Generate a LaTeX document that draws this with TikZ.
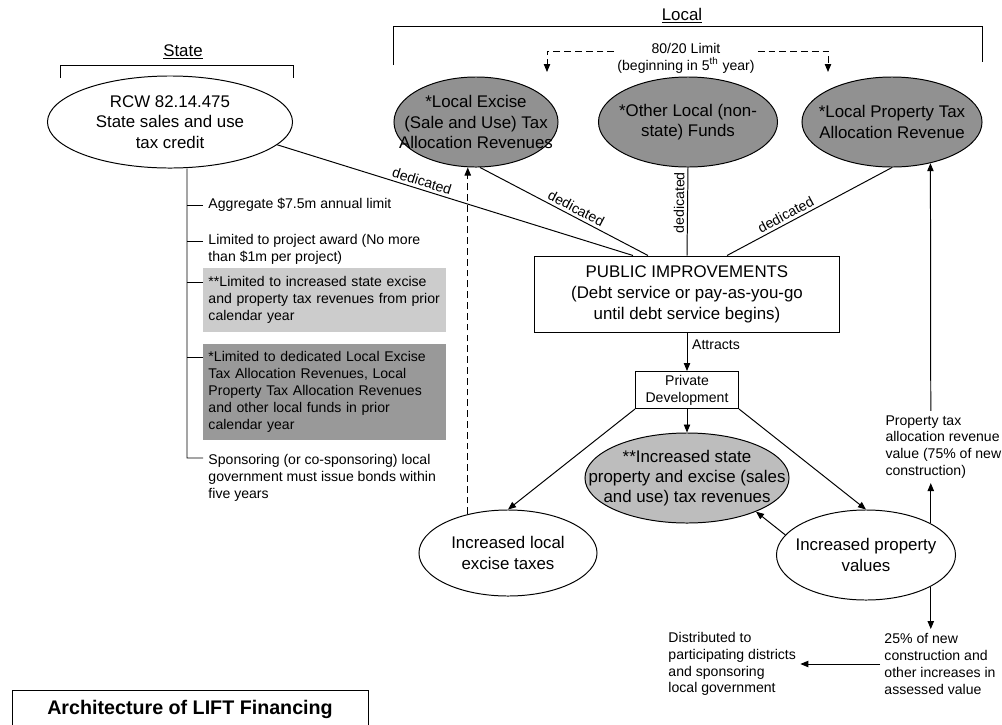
\documentclass[tikz,border=0pt]{standalone}
\usepackage{fontspec}
\setmainfont{Liberation Sans}
\usetikzlibrary{arrows.meta,shapes.geometric}

\definecolor{fundgray}{gray}{0.57}
\definecolor{gaingray}{gray}{0.74}
\definecolor{limitlight}{gray}{0.8}
\definecolor{limitdark}{gray}{0.6}

\begin{document}
\begin{tikzpicture}[x=0.025cm, y=-0.025cm, line width=0.7pt,
    oval/.style={ellipse, draw, inner sep=0pt},
    ovaltext/.style={align=center, font=\fontsize{12}{14.4}\selectfont},
    small/.style={font=\fontsize{10}{12}\selectfont},
    item/.style={small, align=left, anchor=west, inner sep=0.125cm},
    limitbox/.style={item, text width=5.8cm, minimum width=6.05cm},
    dedic/.style={small, sloped, above, inner sep=2pt},
    arr/.style={-{Triangle[length=0.2cm,width=0.16cm]}},
    dsh/.style={dash pattern=on 0.17cm off 0.1cm}]

\useasboundingbox (0,0) rectangle (1002,725);

% Brackets
\draw (60,78) -- (60,65) -- (293,65) -- (293,78);
\draw (393,65) -- (393,26) -- (982,26) -- (982,62);
\node[font=\fontsize{12}{14}\selectfont] (state) at (183,52) {\underline{State}};
\node[font=\fontsize{12}{14}\selectfont] (local) at (682,16) {\underline{Local}};

% Sources
\node[oval, minimum width=6.125cm, minimum height=2.3cm,
  label={[ovaltext]center:{RCW 82.14.475\\State sales and use\\tax credit}}] (rcw) at (170,122) {};
\node[oval, fill=fundgray, minimum width=4.1cm, minimum height=2.25cm,
  label={[ovaltext]center:{*Local Excise\\(Sale and Use) Tax\\Allocation Revenues}}] (lex) at (476,122) {};
\node[oval, fill=fundgray, minimum width=4.475cm, minimum height=2.25cm,
  label={[ovaltext]center:{*Other Local (non-\\state) Funds}}] (olf) at (688,122) {};
\node[oval, fill=fundgray, minimum width=4.5cm, minimum height=2.25cm,
  label={[ovaltext]center:{*Local Property Tax\\Allocation Revenue}}] (lpt) at (892,122) {};

% 80/20 limit
\node[small, align=center, inner sep=2pt] (lim) at (686,58) {80/20 Limit\\(beginning in 5\textsuperscript{th} year)};
\coordinate (limL) at (547,72);
\coordinate (limR) at (828,72);
\draw[arr, dsh] ([yshift=0.175cm]lim.west) -| (limL);
\draw[arr, dsh] ([yshift=0.175cm]lim.east) -| (limR);

% State credit limits
\node[item] (agg) at (203,205) {Aggregate \$7.5m annual limit};
\node[item] (award) at (203,249) {Limited to project award (No more\\than \$1m per project)};
\node[limitbox, fill=limitlight, minimum height=1.6cm] (stx) at (203,300) {**Limited to increased state excise\\and property tax revenues from prior\\calendar year};
\node[limitbox, fill=limitdark, minimum height=2.375cm] (ltx) at (203,392) {*Limited to dedicated Local Excise\\Tax Allocation Revenues, Local\\Property Tax Allocation Revenues\\and other local funds in prior\\calendar year};
\node[item] (spons) at (203,478) {Sponsoring (or co-sponsoring) local\\government must issue bonds within\\five years};

\coordinate (trunk) at (187,458);
\draw (rcw.south -| trunk) -- (trunk) -- ([yshift=0.5cm]spons.west);
\draw (agg.west) -- ++(-16,0);
\draw ([yshift=0.2cm]award.west) -- ++(-16,0);
\draw ([yshift=0.45cm]stx.west) -- ++(-16,0);
\draw ([yshift=0.875cm]ltx.west) -- ++(-16,0);

% Public improvements
\node[draw, minimum width=7.625cm, minimum height=1.9cm, align=center,
  font=\fontsize{12}{15}\selectfont] (pub) at (687,294)
  {PUBLIC IMPROVEMENTS\\(Debt service or pay-as-you-go\\until debt service begins)};
\draw (rcw.-12) -- node[dedic, pos=0.4] {dedicated} ([xshift=-1.35cm]pub.north);
\draw (lex.-85) -- node[dedic, pos=0.55] {dedicated} ([xshift=-0.975cm]pub.north);
\draw (pub.north) -- node[dedic, pos=0.6] {dedicated} (olf.south);
\draw ([xshift=1cm]pub.north) -- node[dedic, pos=0.38] {dedicated} (lpt.south);

% Private development and its effects
\node[draw, small, align=center, minimum width=2.575cm, minimum height=0.925cm, inner sep=1pt] (pd) at (687,390) {Private\\Development};
\draw[arr] (pub.south) -- node[small, right, pos=0.32] {Attracts} (pd.north);

\node[oval, fill=gaingray, minimum width=5.1cm, minimum height=2.25cm,
  label={[ovaltext]center:{**Increased state\\property and excise (sales\\and use) tax revenues}}] (isr) at (687,478) {};
\node[oval, minimum width=4.45cm, minimum height=2.15cm,
  label={[ovaltext]center:{Increased local\\excise taxes}}] (ile) at (508,553) {};
\node[oval, minimum width=4.475cm, minimum height=2.25cm,
  label={[ovaltext]center:{Increased property\\values}}] (ipv) at (866,555) {};

\draw[arr] (pd.south) -- (isr.north);
\draw[arr] (pd.south west) -- (ile.north);
\draw[arr] (pd.south east) -- (ipv.north);
\draw[arr] (ipv.166) -- (isr.-26);
\draw[arr, dsh] (ile.136) -- (ile.136 |- lex.south);

% Property value split
\node[item, inner sep=0.1cm] (ptax) at (881,447) {Property tax\\allocation revenue\\value (75\% of new\\construction)};
\node[item, inner sep=0.1cm] (pct) at (880,664) {25\% of new\\construction and\\other increases in\\assessed value};
\node[item, inner sep=0.1cm] (dist) at (664,664) {Distributed to\\participating districts\\and sponsoring\\local government};
\draw[arr] (ipv.26) -- (ipv.26 |- ptax.south);
\draw[arr] (ptax.north -| ipv.26) -- (lpt.-47);
\draw[arr] (ipv.-26) -- (ipv.-26 |- pct.north);
\draw[arr] (pct.west) -- (dist.east);

% Title
\draw (12,740) |- (368,690) -- (368,740);
\node[font=\fontsize{14}{16}\selectfont\bfseries] (title) at (190,709) {Architecture of LIFT Financing};

\end{tikzpicture}
\end{document}
